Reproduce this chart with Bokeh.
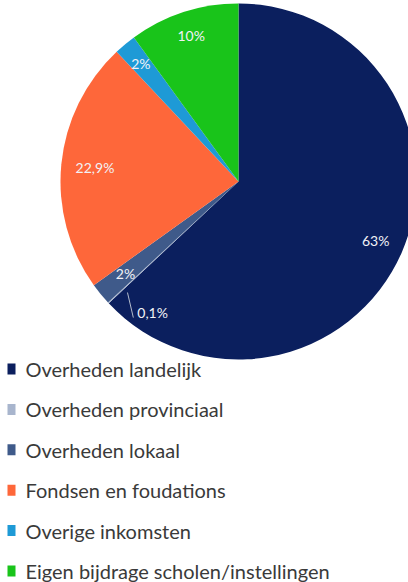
import numpy as np
from bokeh.plotting import figure
from bokeh.models import ColumnDataSource, Range1d
from bokeh.core.properties import value
from bokeh.embed import file_html
from bokeh.resources import INLINE

categories = ["Overheden landelijk", "Overheden provinciaal", "Overheden lokaal",
              "Fondsen en foudations", "Overige inkomsten",
              "Eigen bijdrage scholen/instellingen"]
values = [63.0, 0.1, 2.0, 22.9, 2.0, 10.0]
labels = ["63%", "0,1%", "2%", "22,9%", "2%", "10%"]
colors = ["#0b1f5e", "#a8b5cd", "#3f5a8a", "#fe673a", "#1e9ad6", "#19c41a"]

W, H = 408, 582
p = figure(width=W, height=H, output_backend="svg", toolbar_location=None,
           x_range=Range1d(0, W), y_range=Range1d(0, H),
           x_axis_location=None, y_axis_location=None, min_border=0)
p.grid.visible = False
p.outline_line_color = None
p.background_fill_color = "white"
p.border_fill_color = "white"

cx, cy, r = 238, H - 181, 178
v = np.array(values)
frac = v / v.sum()
c1 = np.cumsum(frac)
c0 = c1 - frac
start = np.deg2rad(90 - c1 * 360)
end = np.deg2rad(90 - c0 * 360)
src = ColumnDataSource(dict(start=start, end=end, color=colors))
p.wedge(x=cx, y=cy, radius=r, start_angle="start", end_angle="end",
        color="color", line_color=None, source=src)

# data labels
lab_f = [0.84, None, 0.82, 0.81, 0.86, 0.86]
lx, ly, lt = [], [], []
for i, f in enumerate(lab_f):
    if f is None:
        continue
    m = np.deg2rad(90 - (c0[i] + c1[i]) / 2 * 360)
    lx.append(cx + f * r * np.cos(m))
    ly.append(cy + f * r * np.sin(m))
    lt.append(labels[i])
p.text(x=lx, y=ly, text=lt, text_align="center", text_baseline="middle",
       text_color="#f2f2f6", text_font=value("Lato"), text_font_size="14px")

# leader for tiny slice
a1 = np.deg2rad(90 - 225)
a2 = np.deg2rad(90 - 217.7)
x1, y1 = cx + 157 * np.cos(a1), cy + 157 * np.sin(a1)
x2, y2 = cx + 172 * np.cos(a2), cy + 172 * np.sin(a2)
p.segment(x0=[x1], y0=[y1], x1=[x2], y1=[y2], line_color="#b4bccb", line_width=1)
p.text(x=[x2 + 4], y=[y2 + 5], text=[labels[1]], text_align="left",
       text_baseline="middle", text_color="#f2f2f6", text_font=value("Lato"),
       text_font_size="14px")

# legend
n = len(categories)
mid = np.array([H - 368.5 - i * 40.4 for i in range(n)])
p.rect(x=[11] * n, y=mid, width=8, height=11, color=colors, line_color=None)
p.text(x=[25] * n, y=mid, text=categories, text_align="left",
       text_baseline="middle", text_color="#3a3a3a",
       text_font=value("Lato"), text_font_size="20px")

open("out.html", "w").write(file_html(p, INLINE))
